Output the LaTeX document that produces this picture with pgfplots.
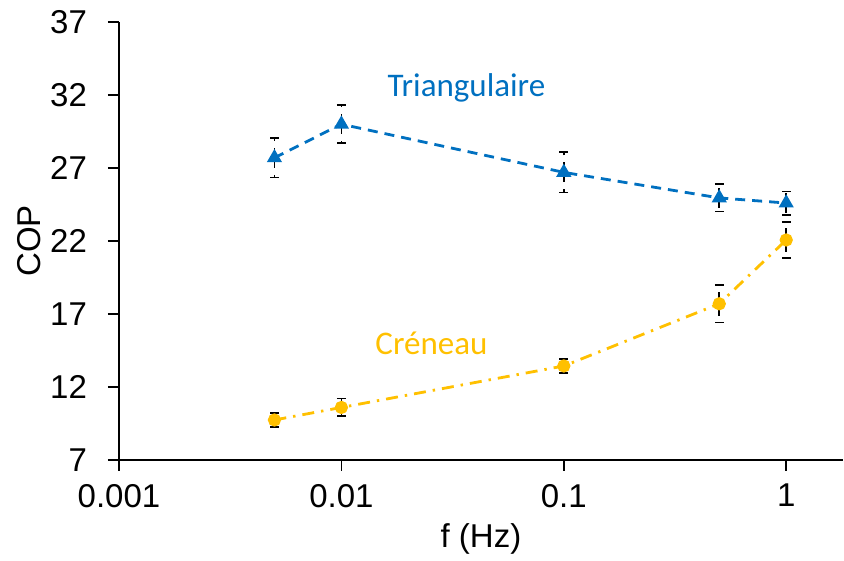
\documentclass[border=0pt]{standalone}
\usepackage{fontspec}
\setmainfont{Liberation Sans}
\newfontfamily\calibri{Carlito}
\usepackage{pgfplots}
\pgfplotsset{compat=1.18}
\definecolor{triblue}{RGB}{0,112,192}
\definecolor{creyellow}{RGB}{255,192,0}

\begin{document}
\begin{tikzpicture}
\begin{axis}[
    scale only axis,
    width=362pt, height=219pt,
    xmode=log,
    xmin=0.001, xmax=1.8,
    ymin=7, ymax=37,
    ytick={7,12,17,22,27,32,37},
    xtick={0.001,0.01,0.1,1},
    xticklabels={0.001,0.01,0.1,1},
    xminorticks=false,
    axis x line*=bottom, axis y line*=left,
    axis line style={line width=1pt, -},
    tick style={black, line width=0.8pt},
    tick align=outside,
    major tick length=5.5pt,
    xlabel={f (Hz)}, ylabel={COP},
    tick label style={font=\fontsize{16.5}{19}\selectfont},
    label style={font=\fontsize{16.5}{19}\selectfont},
    /pgf/number format/assume math mode=true,
    yticklabel style={xshift=-7pt},
    xticklabel style={yshift=-3pt},
    xlabel style={yshift=-1pt},
    ylabel style={yshift=-2pt},
    error bars/y dir=both, error bars/y explicit,
    error bars/error bar style={black, line width=0.8pt},
    error bars/error mark options={rotate=90, black, mark size=2.2pt, line width=0.8pt},
    clip=false,
]
% Triangulaire
\addplot[triblue, line width=1.4pt, dash pattern=on 5pt off 3.5pt,
    mark=triangle*, mark size=3pt, mark options={solid}]
  coordinates {
    (0.005,27.7) +- (0,1.34)
    (0.01,30.0) +- (0,1.30)
    (0.1,26.7) +- (0,1.39)
    (0.5,24.95) +- (0,0.94)
    (1,24.6) +- (0,0.8)
  };
% Creneau
\addplot[creyellow, line width=1.4pt, dash pattern=on 6pt off 3.5pt on 1.2pt off 3.5pt,
    mark=*, mark size=2.6pt, mark options={solid}]
  coordinates {
    (0.005,9.74) +- (0,0.48)
    (0.01,10.6) +- (0,0.6)
    (0.1,13.44) +- (0,0.49)
    (0.5,17.7) +- (0,1.27)
    (1,22.07) +- (0,1.22)
  };
\node[triblue, font=\calibri\fontsize{16.5}{19}\selectfont] at (axis cs:0.0365,32.5) {Triangulaire};
\node[creyellow, font=\calibri\fontsize{16.5}{19}\selectfont] at (axis cs:0.0254,15.0) {Créneau};
% a little white room on the left and at the top, as in the reference
\path (rel axis cs:0,1) ++(-59.5pt,11pt) coordinate (bbtl);
\end{axis}
\path[use as bounding box] (current bounding box.south east) rectangle (bbtl);
\end{tikzpicture}
\end{document}
